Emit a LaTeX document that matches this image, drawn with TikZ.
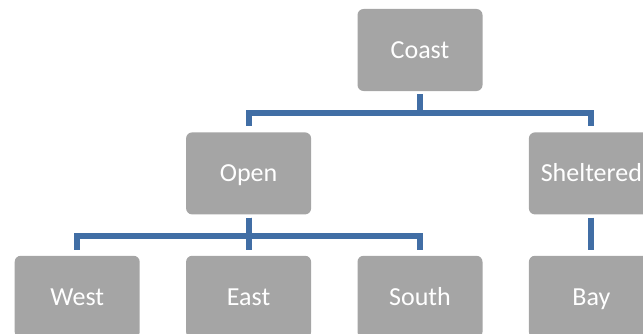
\documentclass[tikz,border=0pt]{standalone}
\usepackage{fontspec}
\setmainfont{Carlito}
\usepackage{xcolor}
\usepackage{tikz}
\usetikzlibrary{positioning}

\definecolor{boxgray}{RGB}{165,165,165}
\definecolor{linkblue}{RGB}{65,110,165}

\begin{document}
\begin{tikzpicture}[
    x=1pt, y=1pt,
    node distance=41pt and 46pt,
    box/.style={
        rectangle,
        fill=boxgray,
        rounded corners=6pt,
        minimum width=125pt,
        minimum height=82pt,
        inner sep=0pt,
        text height=16.7pt,
        text depth=0pt,
        text=white,
        font=\fontsize{26}{30}\selectfont
    },
    link/.style={
        draw=linkblue,
        line width=6pt
    }
]

\useasboundingbox (0,0) rectangle (643,333);
\clip (0,0) rectangle (643,333);

\node[box] at (420,283) (coast) {Coast};
\node[box, below left=of coast] (open) {Open};
\node[box, below right=of coast] (sheltered) {Sheltered};
\node[box, below=of open] (east) {East};
\node[box, left=of east] (west) {West};
\node[box, right=of east] (south) {South};
\node[box, below=of sheltered] (bay) {Bay};

\draw[link] ([yshift=-3pt]coast.south) -- ++(0,-18.5) -| ([yshift=6pt]open.north);
\draw[link] ([yshift=-3pt]coast.south) -- ++(0,-18.5) -| ([yshift=6pt]sheltered.north);
\draw[link] ([yshift=-3pt]open.south) -- ++(0,-18.5) -| ([yshift=6pt]west.north);
\draw[link] ([yshift=-3pt]open.south) -- ++(0,-18.5) -| ([yshift=6pt]east.north);
\draw[link] ([yshift=-3pt]open.south) -- ++(0,-18.5) -| ([yshift=6pt]south.north);
\draw[link] ([yshift=-3pt]sheltered.south) -- ([yshift=6pt]bay.north);

\end{tikzpicture}
\end{document}
